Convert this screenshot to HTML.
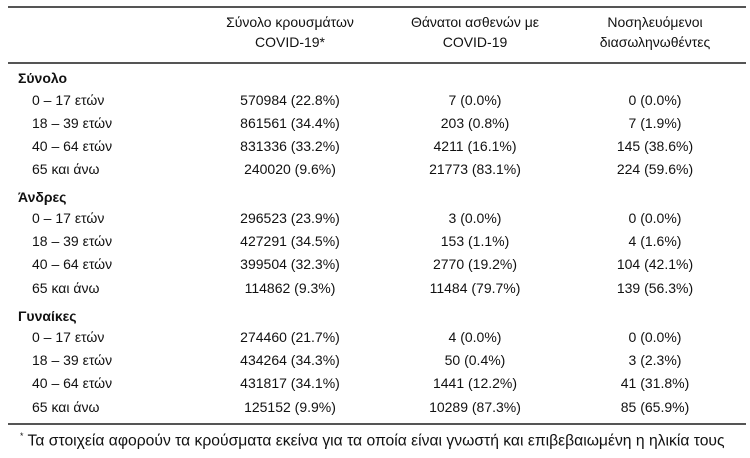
<!DOCTYPE html>
<html><head><meta charset="utf-8"><style>
body{margin:0;background:#fff;width:750px;height:458px;position:relative;overflow:hidden;font-family:"Liberation Sans","DejaVu Sans",sans-serif;color:#111;font-size:14px}
.t{position:absolute;white-space:nowrap;line-height:16px}
.c{transform:translateX(-50%);text-align:center}
.l{position:absolute;left:8px;width:738px;height:2px;background:#555}
.b{font-weight:bold}
</style></head><body>
<div class="l" style="top:6px"></div>
<div class="l" style="top:62px"></div>
<div class="l" style="top:423px"></div>
<div class="t c" style="left:290px;top:14px">Σύνολο κρουσμάτων<br><span style="line-height:24px">COVID-19*</span></div>
<div class="t c" style="left:475px;top:14px">Θάνατοι ασθενών με<br><span style="line-height:24px">COVID-19</span></div>
<div class="t c" style="left:655px;top:14px">Νοσηλευόμενοι<br><span style="line-height:24px">διασωληνωθέντες</span></div>

<div class="t b" style="left:18px;top:70px">Σύνολο</div>
<div class="t b" style="left:18px;top:189px">Άνδρες</div>
<div class="t b" style="left:18px;top:308px">Γυναίκες</div>

<div id="rows"></div>
<script>
var d=[[92,"0 – 17 ετών","570984 (22.8%)","7 (0.0%)","0 (0.0%)"],
[115,"18 – 39 ετών","861561 (34.4%)","203 (0.8%)","7 (1.9%)"],
[138,"40 – 64 ετών","831336 (33.2%)","4211 (16.1%)","145 (38.6%)"],
[161,"65 και άνω","240020 (9.6%)","21773 (83.1%)","224 (59.6%)"],
[210,"0 – 17 ετών","296523 (23.9%)","3 (0.0%)","0 (0.0%)"],
[233,"18 – 39 ετών","427291 (34.5%)","153 (1.1%)","4 (1.6%)"],
[256,"40 – 64 ετών","399504 (32.3%)","2770 (19.2%)","104 (42.1%)"],
[280,"65 και άνω","114862 (9.3%)","11484 (79.7%)","139 (56.3%)"],
[329,"0 – 17 ετών","274460 (21.7%)","4 (0.0%)","0 (0.0%)"],
[352,"18 – 39 ετών","434264 (34.3%)","50 (0.4%)","3 (2.3%)"],
[375,"40 – 64 ετών","431817 (34.1%)","1441 (12.2%)","41 (31.8%)"],
[399,"65 και άνω","125152 (9.9%)","10289 (87.3%)","85 (65.9%)"]];
var h="";d.forEach(function(r){h+='<div class="t" style="left:32px;top:'+r[0]+'px">'+r[1]+'</div>'+
'<div class="t c" style="left:290px;top:'+r[0]+'px">'+r[2]+'</div>'+
'<div class="t c" style="left:475px;top:'+r[0]+'px">'+r[3]+'</div>'+
'<div class="t c" style="left:655px;top:'+r[0]+'px">'+r[4]+'</div>';});
document.getElementById("rows").innerHTML=h;
</script>
<div class="t" style="left:20px;top:427px;font-size:16px;line-height:18px;transform:scaleX(0.98);transform-origin:0 0"><sup style="font-size:9px">*</sup> Τα στοιχεία αφορούν τα κρούσματα εκείνα για τα οποία είναι γνωστή και επιβεβαιωμένη η ηλικία τους</div>
</body></html>
